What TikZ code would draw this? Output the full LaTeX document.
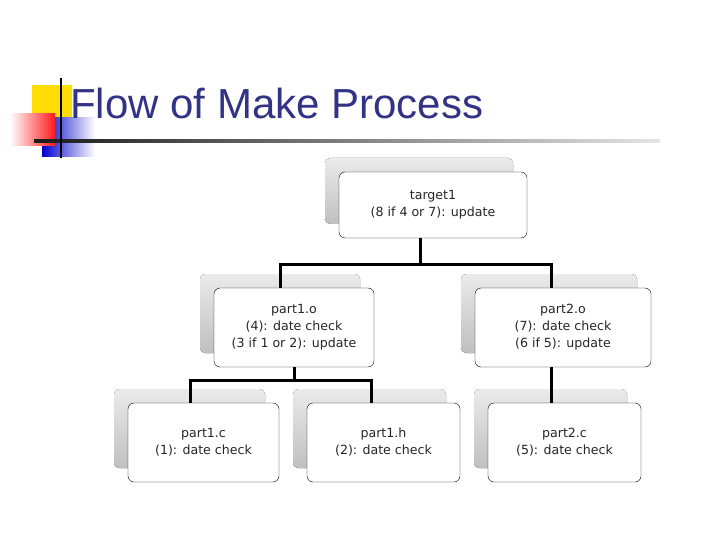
\documentclass[tikz,border=0pt]{standalone}
\usepackage{fontspec}
\setmainfont{DejaVu Sans}
\newfontfamily\titlefont{Liberation Sans}
\begin{document}
\begin{tikzpicture}[x=1pt,y=-1pt,
  box/.style={draw=black,fill=white,rounded corners=6pt,align=center,inner sep=0pt,font=\fontsize{12.6}{17}\selectfont,text=black!85},
  shad/.style={rounded corners=5pt,top color=black!8,bottom color=black!25,draw=none},
  link/.style={line width=3pt,black}]
\useasboundingbox (0,0) rectangle (720,540);
% title decoration
\fill[yellow!80!orange] (32,85) rectangle (72,118);
\shade[left color=blue!80!black,right color=white] (42,118) rectangle (95,157);
\shade[left color=white,right color=red!90] (10,114) rectangle (55,146);
\shade[left color=black!90,right color=black!10,draw=none] (34,140) rectangle (660,142.5);
\draw[line width=2pt,black] (61,78) -- (61,158);
\node[anchor=base west,inner sep=0pt,text=blue!40!black!80,font=\titlefont\fontsize{42}{48}\selectfont] (title) at (70,119) {Flow of Make Process};
% shadows
\foreach \a/\b/\c/\d in {325/158/513/224, 200/274/360/353, 461/274/637/353, 114/389/265/468, 293/389/446/468, 474/389/627/468}
  \fill[shad] (\a,\b) rectangle (\c,\d);
% boxes
\node[box,minimum width=188pt,minimum height=66pt] (t) at (433,205) {target1\\(8 if 4 or 7): update};
\node[box,minimum width=160pt,minimum height=79pt] (p1o) at (294,327.5) {part1.o\\(4): date check\\(3 if 1 or 2): update};
\node[box,minimum width=176pt,minimum height=79pt] (p2o) at (563,327.5) {part2.o\\(7): date check\\(6 if 5): update};
\node[box,minimum width=151pt,minimum height=79pt] (p1c) at (203.5,442.5) {part1.c\\(1): date check};
\node[box,minimum width=153pt,minimum height=79pt] (p1h) at (383.5,442.5) {part1.h\\(2): date check};
\node[box,minimum width=153pt,minimum height=79pt] (p2c) at (564.5,442.5) {part2.c\\(5): date check};
% connectors
\coordinate (j1) at (420,264);
\coordinate (j2) at (294,380);
\draw[link] (t.south -| j1) -- (j1);
\draw[link] (280,288) |- (j1) -| (551,288);
\draw[link] (p1o.south) -- (j2);
\draw[link] (p1c.north -| 190,0) |- (j2) -| (p1h.north -| 371,0);
\draw[link] (p2o.south -| 551,0) -- (p2c.north -| 551,0);
\end{tikzpicture}
\end{document}
